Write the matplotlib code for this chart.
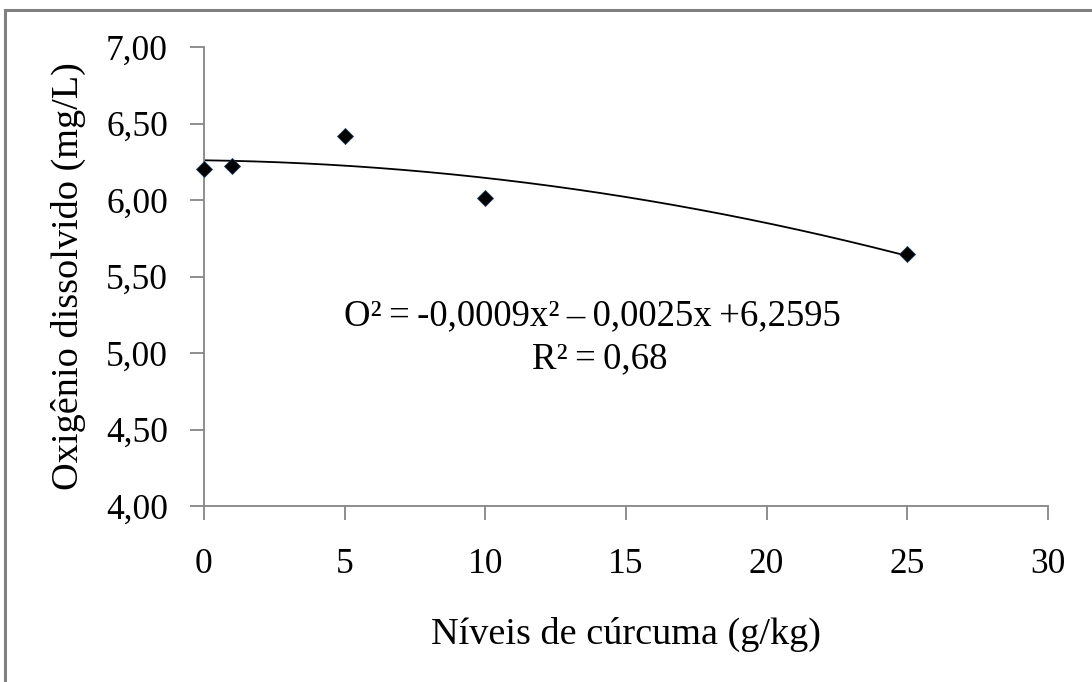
import numpy as np
import matplotlib.pyplot as plt
from matplotlib.patches import Rectangle

# Data
niveis = [0, 1, 5, 10, 25]
oxigenio = [6.20, 6.22, 6.42, 6.01, 5.65]

# Trend line coefficients (from the equation shown)
coef_a, coef_b, coef_c = -0.0009, -0.0025, 6.2595

x_ticks = [0, 5, 10, 15, 20, 25, 30]
y_ticks = [4.0, 4.5, 5.0, 5.5, 6.0, 6.5, 7.0]

plt.rcParams["font.family"] = ["Liberation Serif", "DejaVu Serif"]

W, H = 1092, 682
fig = plt.figure(figsize=(W / 100, H / 100), dpi=100)

# Outer gray frame (only top and left visible in the reference)
fig.patches.append(Rectangle((5 / W, -0.05), 1.2, 1 - 10 / H + 0.05,
                             transform=fig.transFigure, fill=False,
                             edgecolor="#808080", linewidth=2.2))

ax = fig.add_axes([204 / W, 1 - 506 / H, (1048 - 204) / W, (506 - 47) / H])

xs = np.linspace(0, 25, 200)
ax.plot(xs, coef_a * xs**2 + coef_b * xs + coef_c, color="black", linewidth=1.3)
ax.plot(niveis, oxigenio, linestyle="none", marker="D", markersize=8.5,
        markerfacecolor="black", markeredgecolor="#1f3a5a", markeredgewidth=0.6,
        clip_on=False, zorder=3)

ax.set_xlim(0, 30)
ax.set_ylim(4.0, 7.0)
ax.set_xticks(x_ticks)
ax.set_yticks(y_ticks)
ax.set_yticklabels([f"{v:.2f}".replace(".", ",") for v in y_ticks])

for side in ["top", "right"]:
    ax.spines[side].set_visible(False)
for side in ["left", "bottom"]:
    ax.spines[side].set_color("#868686")
    ax.spines[side].set_linewidth(1.3)

ax.tick_params(axis="both", direction="out", length=10, width=1.3, color="#868686",
               labelsize=25.5)
ax.tick_params(axis="y", pad=16)
ax.tick_params(axis="x", pad=20)

ax.set_xlabel("Níveis de cúrcuma (g/kg)", fontsize=27.5, labelpad=26)
ax.set_ylabel("Oxigênio dissolvido (mg/L)", fontsize=27.5, labelpad=14)

ax.text(13.8, 5.24, "O²\u2009=\u2009-0,0009x²\u2009–\u20090,0025x\u2009+6,2595",
        fontsize=26.5, ha="center", va="center")
ax.text(14.07, 4.96, "R²\u2009=\u20090,68", fontsize=26.5, ha="center", va="center")

fig.savefig("out.png", dpi=100)
